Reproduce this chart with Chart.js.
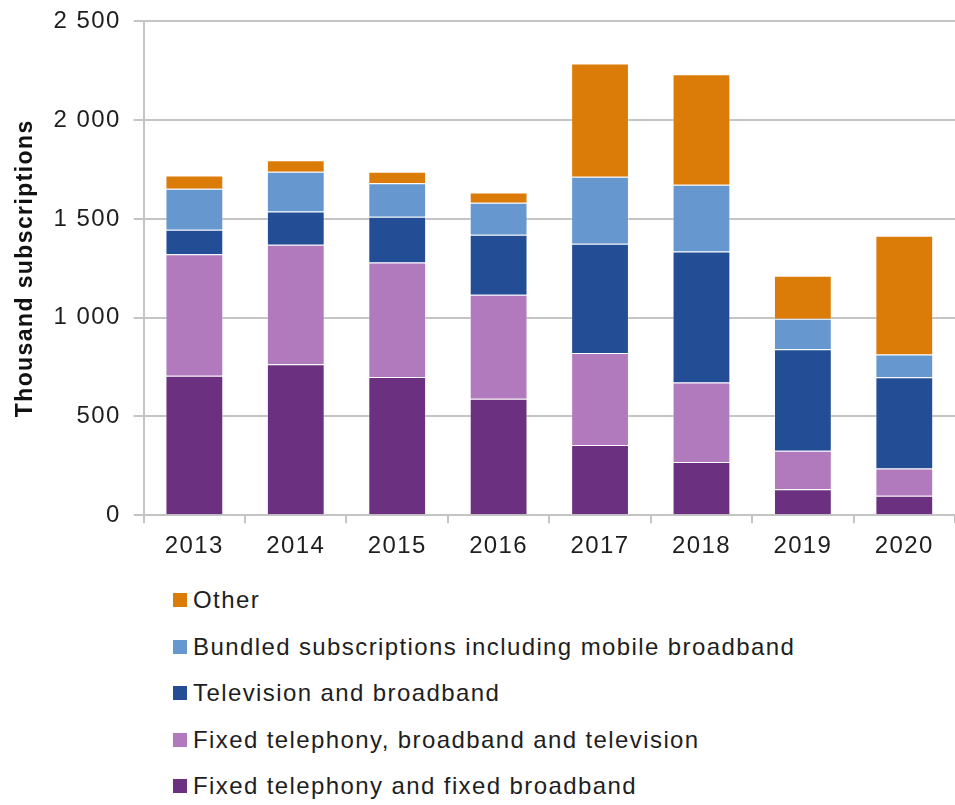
<!DOCTYPE html>
<html>
<head>
<meta charset="utf-8">
<script src="https://cdn.jsdelivr.net/npm/chart.js@4.4.1/dist/chart.umd.min.js"></script>
<style>
  html, body { margin: 0; padding: 0; background: #fff; }
  #wrap { position: relative; width: 955px; height: 805px; overflow: hidden; }
  #chart { position: absolute; left: 0; top: -6px; }
  #legend {
    position: absolute; left: 173px; top: 577px;
    font-family: "Liberation Sans", Arial, sans-serif; font-size: 24px;
    letter-spacing: 1.4px; color: #1e1e1e;
  }
  #legend .item { display: flex; align-items: center; height: 46.5px; }
  #legend .box { width: 14px; height: 14px; margin-right: 6px; }
</style>
</head>
<body>
<div id="wrap">
  <canvas id="chart" width="955" height="576"></canvas>
  <div id="legend"></div>
</div>
<script>
const years = ['2013', '2014', '2015', '2016', '2017', '2018', '2019', '2020'];

// thousand subscriptions per bundle type
const fixedTelBroadband = [706, 764, 700, 590, 355, 269, 132, 99];
const fixedTelBroadbandTv = [615, 605, 579, 526, 466, 403, 194, 137];
const tvBroadband = [124, 169, 232, 304, 553, 663, 514, 462];
const bundledMobile = [208, 201, 169, 162, 340, 338, 155, 116];
const other = [67, 58, 59, 52, 573, 560, 217, 601];

const yTicks = [0, 500, 1000, 1500, 2000, 2500];

const fontFamily = '"Liberation Sans", Arial, sans-serif';
const tracking = '1.4px';

const series = [
    { label: 'Fixed telephony and fixed broadband', data: fixedTelBroadband, color: '#6b307f' },
    { label: 'Fixed telephony, broadband and television', data: fixedTelBroadbandTv, color: '#b07abd' },
    { label: 'Television and broadband', data: tvBroadband, color: '#234d95' },
    { label: 'Bundled subscriptions including mobile broadband', data: bundledMobile, color: '#6697ce' },
    { label: 'Other', data: other, color: '#db7c09' },
];

const fmt = v => {
    const s = String(v);
    return s.length > 3 ? s.slice(0, -3) + ' ' + s.slice(-3) : s;
};

// wider letter spacing on all canvas text (the context state is reset on resize)
const letterSpacing = {
    id: 'letterSpacing',
    beforeUpdate(chart) { chart.ctx.letterSpacing = tracking; },
    beforeDraw(chart) { chart.ctx.letterSpacing = tracking; },
};

const chart = new Chart(document.getElementById('chart'), {
    type: 'bar',
    data: {
        labels: years,
        datasets: series.map(s => ({
            label: s.label,
            data: s.data,
            backgroundColor: s.color,
            borderColor: 'rgba(255,255,255,0.35)',
            borderWidth: 1,
            barPercentage: 0.57,
            categoryPercentage: 1,
        })),
    },
    options: {
        responsive: false,
        animation: false,
        layout: { padding: { left: 12, top: 0, right: 0, bottom: 0 } },
        plugins: {
            legend: { display: false },
            tooltip: { enabled: false },
        },
        scales: {
            x: {
                stacked: true,
                grid: {
                    offset: true,
                    drawOnChartArea: false,
                    color: '#c4c4c4',
                    lineWidth: 2,
                    tickLength: 8,
                },
                border: { color: '#c4c4c4', width: 2 },
                ticks: {
                    color: '#1e1e1e',
                    font: { family: fontFamily, size: 24 },
                    padding: 9,
                },
            },
            y: {
                stacked: true,
                min: 0,
                max: 2500,
                afterBuildTicks: axis => { axis.ticks = yTicks.map(v => ({ value: v })); },
                grid: {
                    color: '#c4c4c4',
                    lineWidth: 2,
                    tickLength: 10,
                },
                border: { color: '#c4c4c4', width: 2 },
                ticks: {
                    color: '#1e1e1e',
                    font: { family: fontFamily, size: 24 },
                    padding: 13,
                    callback: v => fmt(v),
                },
                title: {
                    display: true,
                    text: 'Thousand subscriptions',
                    color: '#111',
                    font: { family: fontFamily, size: 23, weight: 'bold' },
                    padding: { top: 0, bottom: 1 },
                },
            },
        },
    },
    plugins: [letterSpacing],
});

// legend listed top-down in reverse stacking order
const legendEl = document.getElementById('legend');
[...series].reverse().forEach(s => {
    const item = document.createElement('div');
    item.className = 'item';
    const box = document.createElement('span');
    box.className = 'box';
    box.style.background = s.color;
    const text = document.createElement('span');
    text.textContent = s.label;
    item.append(box, text);
    legendEl.appendChild(item);
});
</script>
</body>
</html>
